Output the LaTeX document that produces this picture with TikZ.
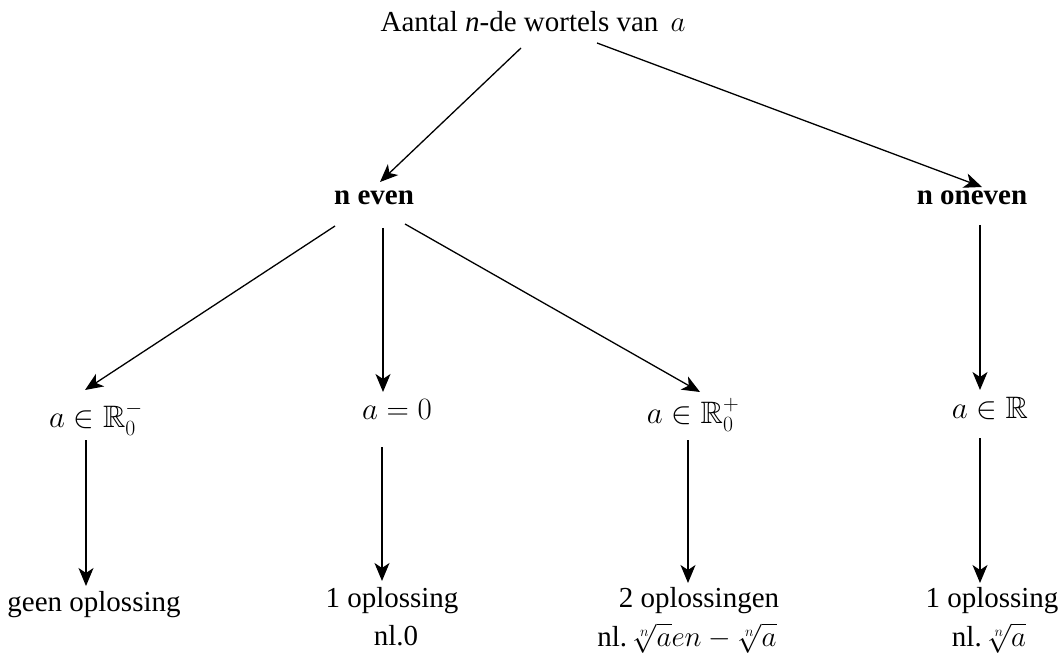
\RequirePackage{fix-cm}
\documentclass[tikz,border=0pt]{standalone}
\usepackage{amsmath,amssymb}
\usepackage{fontspec}
\setmainfont{Liberation Serif}
\usetikzlibrary{arrows.meta,calc}
\begin{document}
\begin{tikzpicture}[x=1pt,y=-1pt,
  lbl/.style={anchor=base,inner sep=0pt,font=\fontsize{29}{33}\selectfont},
  lbltwo/.style={lbl,text height=22pt,text depth=6pt},
  mlbl/.style={lbl,font=\fontsize{31}{35}\selectfont},
  blbl/.style={lbl,font=\fontsize{29}{33}\selectfont\bfseries},
  arr/.style={line width=1.3pt,-{Stealth[length=18pt,width=15pt,inset=5pt]}}]
\useasboundingbox (0,0) rectangle (1062,660);
\fill[white] (0,0) rectangle (1062,660);
% nodes
\node[lbl] (top) at (533,32) {Aantal \textit{n}-de wortels van\, $a$};
\node[blbl] (neven) at (374,205) {n even};
\node[blbl] (noneven) at (972,205) {n oneven};
\node[mlbl] (rm) at (96,427) {$a\in\mathbb{R}_0^-$};
\node[mlbl] (zero) at (397,419) {$a=0$};
\node[mlbl] (rp) at (693,423) {$a\in\mathbb{R}_0^+$};
\node[mlbl] (rr) at (990,418) {$a\in\mathbb{R}$};
\node[lbl] (b1) at (94,611) {geen oplossing};
\node[lbl] (b2) at (392,607) {1 oplossing};
\node[lbltwo] (b2n) at (396,645) {nl.0};
\node[lbl] (b3) at (699,607) {2 oplossingen};
\node[lbltwo] (b3n) at (687,646) {nl.\,$\sqrt[n]{a}en-\sqrt[n]{a}$};
\node[lbl] (b4) at (992,607) {1 oplossing};
\node[lbltwo] (b4n) at (989,646) {nl.\,$\sqrt[n]{a}$};
% connectors
\draw[arr] ($(top.base)+(-12,16)$) -- ($(neven.base)+(6,-23)$);
\draw[arr] ($(top.base)+(64,11)$) -- ($(noneven.base)+(10,-18)$);
\draw[arr] ($(neven.base)+(-39,21)$) -- ($(rm.base)+(-11,-37)$);
\draw[arr] ($(neven.base)+(9,23)$) -- ($(zero.base)+(-14,-27)$);
\draw[arr] ($(neven.base)+(31,19)$) -- ($(rp.base)+(7,-31)$);
\draw[arr] ($(noneven.base)+(8,20)$) -- ($(rr.base)+(-10,-28)$);
\draw[arr] ($(rm.base)+(-10,13)$) -- ($(b1.base)+(-8,-25)$);
\draw[arr] ($(zero.base)+(-15,28)$) -- ($(b2.base)+(-10,-26)$);
\draw[arr] ($(rp.base)+(-5,17)$) -- ($(b3.base)+(-11,-24)$);
\draw[arr] ($(rr.base)+(-10,20)$) -- ($(b4.base)+(-12,-24)$);
\end{tikzpicture}
\end{document}
